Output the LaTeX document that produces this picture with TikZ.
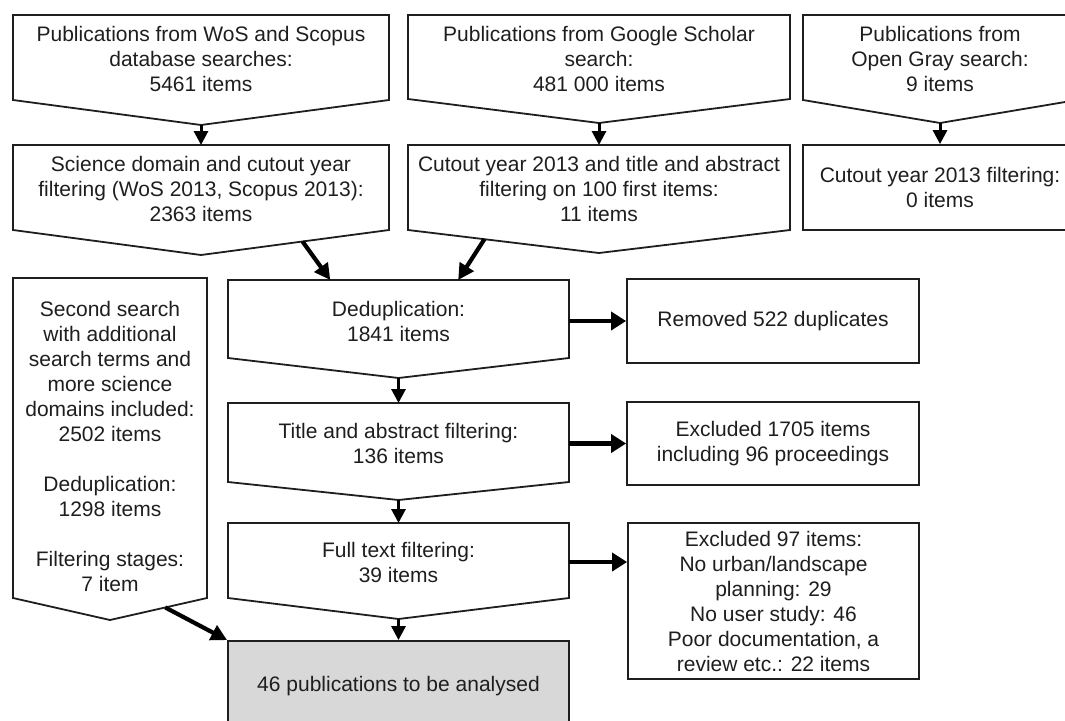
\documentclass[tikz,border=0pt]{standalone}
\usepackage{fontspec}
\setmainfont{Liberation Sans}
\usetikzlibrary{arrows.meta,calc}
\definecolor{inkc}{HTML}{1E1E1E}
\definecolor{finalfill}{HTML}{D8D8D8}
\tikzset{
  boxline/.style={draw=inkc,line width=1.8pt,line join=miter},
  txt/.style={inner sep=0pt,align=center,text=inkc,font=\fontsize{21}{25}\selectfont},
  rectbox/.style={boxline,txt,rectangle},
  thinarr/.style={draw=black,line width=3pt,-{Triangle[length=14pt,width=14pt]}},
  thickarr/.style={draw=black,line width=4.5pt,-{Triangle[length=15pt,width=18pt]}},
  diagarr/.style={draw=black,line width=4.2pt,-{Triangle[length=16pt,width=16pt]}}
}
% name, x1, y1, x2, y2, ytip, text y, text
\newcommand{\pentagonbox}[8]{%
  \draw[boxline] (#2,#3) coordinate (#1-tl) -- (#4,#3) coordinate (#1-tr)
     -- (#4,#5) coordinate (#1-br) -- ({(#2+#4)/2},#6) coordinate (#1-tip)
     -- (#2,#5) coordinate (#1-bl) -- cycle;
  \coordinate (#1-top) at ({(#2+#4)/2},#3);
  \node[txt] (#1) at ({(#2+#4)/2},#7) {#8};
}
\begin{document}
\begin{tikzpicture}[x=1pt,y=-1pt]
\useasboundingbox (0,0) rectangle (1065,720);
\clip (0,0) rectangle (1065,720);

% top row
\pentagonbox{A}{13}{15}{389}{100}{125}{59}{Publications from WoS and Scopus\\database searches:\\5461 items}
\pentagonbox{C}{408}{15}{790}{99}{123}{59}{Publications from Google Scholar\\search:\\481 000 items}
\pentagonbox{E}{803}{15}{1077}{100}{123}{59}{Publications from\\Open Gray search:\\9 items}

% second row
\pentagonbox{B}{13}{145}{389}{230}{255}{189}{Science domain and cutout year\\filtering (WoS 2013, Scopus 2013):\\2363 items}
\pentagonbox{D}{408}{145}{790}{230}{253}{189}{Cutout year 2013 and title and abstract\\filtering on 100 first items:\\11 items}
\node[rectbox,minimum width=274pt,minimum height=85pt] (F) at (940,187.5) {Cutout year 2013 filtering:\\0 items};

% left column
\pentagonbox{G}{13}{278}{207}{598}{620}{446}{Second search\\with additional\\search terms and\\more science\\domains included:\\2502 items\\[25pt]Deduplication:\\1298 items\\[25pt]Filtering stages:\\7 item}

% centre column
\pentagonbox{H}{228}{280}{569}{358}{378}{321}{Deduplication:\\1841 items}
\pentagonbox{I}{228}{403}{569}{482}{500}{443}{Title and abstract filtering:\\136 items}
\pentagonbox{J}{228}{523}{569}{598}{619}{562}{Full text filtering:\\39 items}
\node[rectbox,fill=finalfill,minimum width=341pt,minimum height=90pt] (K) at (398.5,686) {46 publications to be analysed};

% right column
\node[rectbox,minimum width=292pt,minimum height=84pt] (L) at (773,321) {Removed 522 duplicates};
\node[rectbox,minimum width=292pt,minimum height=83pt] (M) at (773,443.5) {Excluded 1705 items\\including 96 proceedings};
\node[rectbox,minimum width=291pt,minimum height=156pt] (N) at (773.5,601) {Excluded 97 items:\\No urban/landscape\\planning: 29\\No user study: 46\\Poor documentation, a\\review etc.: 22 items};

% vertical arrows
\draw[thinarr] (A-tip) -- (B-top);
\draw[thinarr] (C-tip) -- (D-top);
\draw[thinarr] (E-tip) -- (F.north);
\draw[thinarr] (H-tip) -- (I-top);
\draw[thinarr] (I-tip) -- (J-top);
\draw[thinarr] (J-tip) -- (K.north);

% diagonal arrows
\coordinate (Bout) at ($(B-tip)!0.54!(B-br)$);
\coordinate (Hin1) at ($(H-tl)!0.30!(H-tr)$);
\coordinate (Dout) at ($(D-bl)!0.40!(D-tip)$);
\coordinate (Hin2) at ($(H-tl)!0.675!(H-tr)$);
\coordinate (Gout) at ($(G-tip)!0.57!(G-br)$);
\draw[diagarr] (Bout) -- (Hin1);
\draw[diagarr] (Dout) -- (Hin2);
\draw[diagarr] (Gout) -- (K.north west);

% horizontal arrows
\draw[thickarr] (L.west -| H-tr) -- (L.west);
\draw[thickarr] (M.west -| I-tr) -- (M.west);
\draw[thickarr] (J-tr |- J) -- (N.west |- J);
\end{tikzpicture}
\end{document}
